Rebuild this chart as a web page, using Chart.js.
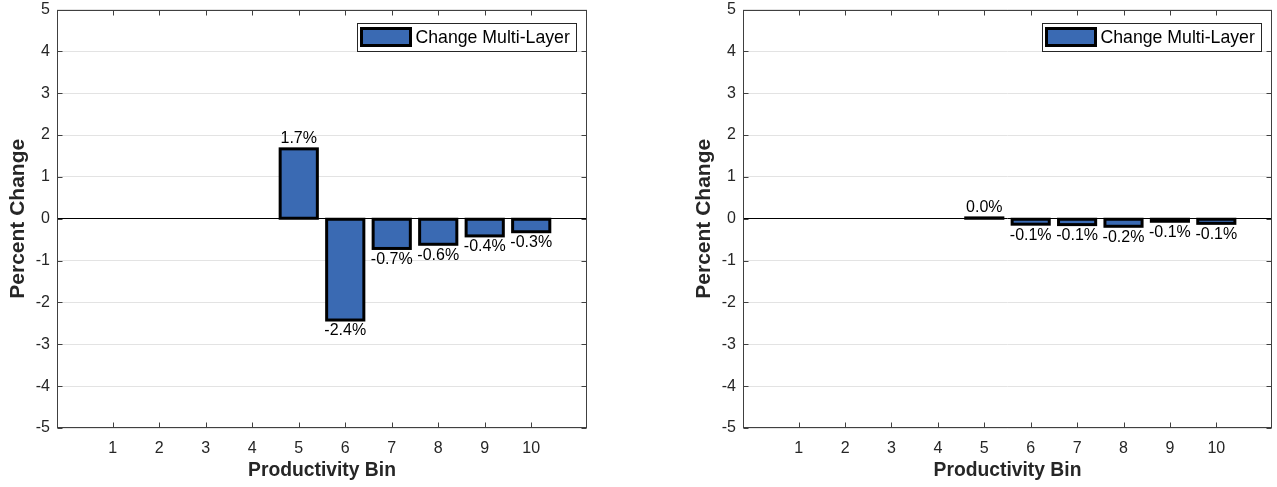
<!DOCTYPE html>
<html>
<head>
<meta charset="utf-8">
<script src="https://cdn.jsdelivr.net/npm/chart.js@4.4.1/dist/chart.umd.min.js"></script>
<style>
  html, body { margin: 0; padding: 0; background: #fff; }
  .panel { position: absolute; top: 0; height: 487px; }
  #leftPanel { left: 0; width: 638px; }
  #rightPanel { left: 686px; width: 591px; }
</style>
</head>
<body>
<div class="panel" id="leftPanel"><canvas id="leftChart"></canvas></div>
<div class="panel" id="rightPanel"><canvas id="rightChart"></canvas></div>
<script>
// data
const bins = [1, 2, 3, 4, 5, 6, 7, 8, 9, 10];
const leftChange = [null, null, null, null, 1.67, -2.42, -0.71, -0.61, -0.41, -0.31];
const rightChange = [null, null, null, null, 0.02, -0.13, -0.14, -0.18, -0.06, -0.11];
const yTicks = [-5, -4, -3, -2, -1, 0, 1, 2, 3, 4, 5];
const seriesName = 'Change Multi-Layer';

const barBlue = '#3a6ab3';
const axisGray = '#404040';
const edgeWidth = 3;

Chart.defaults.font.family = '"Liberation Sans", Arial, Helvetica, sans-serif';
Chart.defaults.color = '#262626';

// box, inward ticks, legend, bar edges and bar labels like the matlab figure
const matlabLook = {
  id: 'matlabLook',
  afterDatasetsDraw(chart) {
    const ctx = chart.ctx;
    const meta = chart.getDatasetMeta(0);
    const vals = chart.data.datasets[0].data;
    ctx.save();
    // matlab strokes the edge centred on the bar outline
    ctx.strokeStyle = '#000';
    ctx.lineWidth = edgeWidth;
    ctx.lineJoin = 'miter';
    meta.data.forEach((el, i) => {
      if (vals[i].y === null) return;
      const x0 = el.x - el.width / 2;
      const top = Math.min(el.y, el.base), h = Math.abs(el.base - el.y);
      ctx.strokeRect(x0, top, el.width, h);
    });
    ctx.font = '16px "Liberation Sans", Arial, sans-serif';
    ctx.fillStyle = '#000';
    ctx.textAlign = 'center';
    meta.data.forEach((el, i) => {
      const v = vals[i].y;
      if (v === null) return;
      const txt = v.toFixed(1) + '%';
      if (v >= 0) {
        ctx.textBaseline = 'alphabetic';
        ctx.fillText(txt, el.x, el.y - 6);
      } else {
        ctx.textBaseline = 'top';
        ctx.fillText(txt, el.x, el.y + 3);
      }
    });
    ctx.restore();
  },
  afterDraw(chart) {
    const { ctx, chartArea: a, scales } = chart;
    const L = Math.round(a.left) + 0.5, R = Math.round(a.right) - 0.5;
    const T = Math.round(a.top) + 0.5, B = Math.round(a.bottom) - 0.5;
    ctx.save();
    ctx.strokeStyle = axisGray;
    ctx.lineWidth = 1;
    ctx.strokeRect(L, T, R - L, B - T);
    ctx.beginPath();
    bins.forEach(b => {
      const px = Math.round(scales.x.getPixelForValue(b)) + 0.5;
      ctx.moveTo(px, B); ctx.lineTo(px, B - 5);
      ctx.moveTo(px, T); ctx.lineTo(px, T + 5);
    });
    yTicks.forEach(t => {
      const py = Math.round(scales.y.getPixelForValue(t)) + 0.5;
      ctx.moveTo(L, py); ctx.lineTo(L + 5, py);
      ctx.moveTo(R, py); ctx.lineTo(R - 5, py);
    });
    ctx.stroke();

    // legend
    const bw = 219, bh = 28;
    const bx = Math.round(a.right - 11 - bw) + 0.5, by = Math.round(a.top + 13) + 0.5;
    ctx.fillStyle = '#fff';
    ctx.fillRect(bx, by, bw, bh);
    ctx.strokeStyle = '#262626';
    ctx.lineWidth = 1;
    ctx.strokeRect(bx, by, bw, bh);
    ctx.fillStyle = barBlue;
    ctx.fillRect(bx + 4, by + 5, 49, 17);
    ctx.strokeStyle = '#000';
    ctx.lineWidth = 3;
    ctx.strokeRect(bx + 4, by + 5, 49, 17);
    ctx.fillStyle = '#000';
    ctx.font = '17.7px "Liberation Sans", Arial, sans-serif';
    ctx.textAlign = 'left';
    ctx.textBaseline = 'middle';
    ctx.fillText(seriesName, bx + 58, by + bh / 2 + 1);
    ctx.restore();
  }
};

function makeChart(canvasId, values, rightPad) {
  const ctx = document.getElementById(canvasId).getContext('2d');
  return new Chart(ctx, {
    type: 'bar',
    data: {
      datasets: [{
        label: seriesName,
        data: bins.map((b, i) => ({ x: b, y: values[i] })),
        backgroundColor: barBlue,
        borderWidth: 0,
        barPercentage: 0.8,
        categoryPercentage: 1
      }]
    },
    options: {
      responsive: true,
      maintainAspectRatio: false,
      animation: false,
      devicePixelRatio: 1,
      layout: { padding: { top: 9.5, right: rightPad, left: 0, bottom: 0 } },
      plugins: { legend: { display: false }, tooltip: { enabled: false } },
      scales: {
        x: {
          type: 'linear',
          offset: false,
          min: -0.2,
          max: 11.2,
          afterBuildTicks: s => { s.ticks = bins.map(v => ({ value: v })); },
          afterFit: s => { s.height = 59; },
          grid: { display: false },
          border: { display: false },
          ticks: { font: { size: 16 }, padding: 3, maxRotation: 0, autoSkip: false },
          title: {
            display: true,
            text: 'Productivity Bin',
            font: { size: 19.3, weight: 'bold' },
            padding: { top: 0, bottom: 5 }
          }
        },
        y: {
          type: 'linear',
          min: -5,
          max: 5,
          afterBuildTicks: s => { s.ticks = yTicks.map(v => ({ value: v })); },
          afterFit: s => { s.width = 57; s.paddingTop = 0; s.paddingBottom = 0; },
          grid: {
            drawTicks: false,
            color: c => (c.tick && c.tick.value === 0 ? '#000' : '#e3e3e3'),
            lineWidth: 1
          },
          border: { display: false },
          ticks: { font: { size: 16 }, padding: 7 },
          title: {
            display: true,
            text: 'Percent Change',
            font: { size: 21, weight: 'bold' },
            padding: { top: 6, bottom: 0 }
          }
        }
      }
    },
    plugins: [matlabLook]
  });
}

makeChart('leftChart', leftChange, 51);
makeChart('rightChart', rightChange, 5);
</script>
</body>
</html>
